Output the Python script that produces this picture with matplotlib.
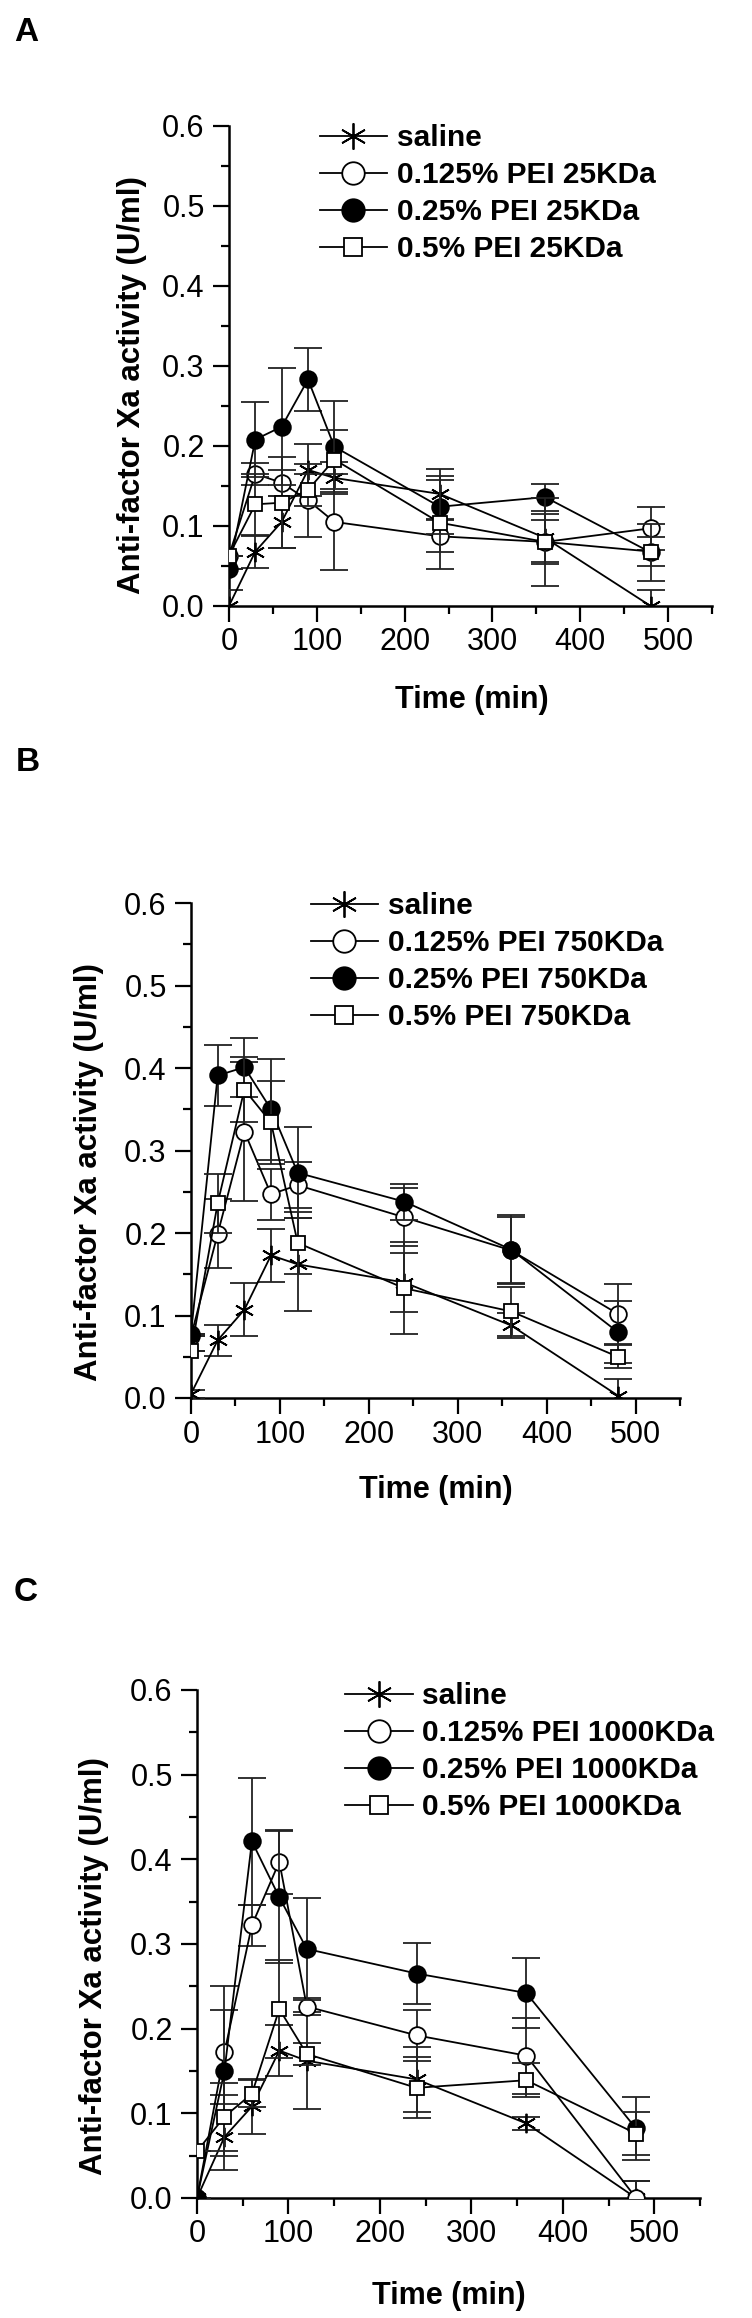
import matplotlib
matplotlib.use("Agg")
import matplotlib.pyplot as plt
from matplotlib.ticker import MultipleLocator

plt.rcParams['font.family'] = ['Liberation Sans', 'DejaVu Sans']

########################## Data ##########################
time_min = [0, 30, 60, 90, 120, 240, 360, 480]

panel_letters = ["A", "B", "C"]
mw_labels = ["25KDa", "750KDa", "1000KDa"]

# Panel A : PEI 25KDa
saline_A = [0.0, 0.068, 0.105, 0.170, 0.160, 0.140, 0.085, 0.0]
saline_A_err = [0.02, 0.020, 0.033, 0.032, 0.020, 0.031, 0.030, 0.020]
p125_A = [0.063, 0.165, 0.154, 0.132, 0.105, 0.087, 0.080, 0.097]
p125_A_err = [0.0, 0.014, 0.016, 0.046, 0.060, 0.020, 0.028, 0.027]
p25_A = [0.046, 0.208, 0.224, 0.283, 0.199, 0.124, 0.136, 0.067]
p25_A_err = [0.0, 0.047, 0.073, 0.039, 0.057, 0.034, 0.017, 0.036]
p5_A = [0.063, 0.127, 0.129, 0.145, 0.183, 0.104, 0.080, 0.068]
p5_A_err = [0.0, 0.038, 0.057, 0.020, 0.037, 0.058, 0.055, 0.018]

# Panel B : PEI 750KDa
saline_B = [0.005, 0.070, 0.107, 0.173, 0.162, 0.140, 0.088, 0.003]
saline_B_err = [0.005, 0.019, 0.032, 0.032, 0.056, 0.036, 0.015, 0.020]
p125_B = [0.075, 0.199, 0.323, 0.247, 0.258, 0.219, 0.179, 0.102]
p125_B_err = [0.0, 0.042, 0.084, 0.031, 0.028, 0.035, 0.040, 0.036]
p25_B = [0.078, 0.391, 0.401, 0.350, 0.273, 0.238, 0.180, 0.080]
p25_B_err = [0.0, 0.037, 0.036, 0.061, 0.055, 0.022, 0.042, 0.037]
p5_B = [0.057, 0.236, 0.374, 0.334, 0.188, 0.133, 0.105, 0.050]
p5_B_err = [0.0, 0.036, 0.040, 0.050, 0.038, 0.056, 0.030, 0.014]

# Panel C : PEI 1000KDa
saline_C = [0.0, 0.072, 0.108, 0.174, 0.162, 0.140, 0.088, 0.0]
saline_C_err = [0.0, 0.039, 0.033, 0.030, 0.057, 0.038, 0.008, 0.020]
p125_C = [0.0, 0.172, 0.322, 0.397, 0.226, 0.192, 0.168, 0.0]
p125_C_err = [0.0, 0.050, 0.024, 0.038, 0.010, 0.030, 0.045, 0.020]
p25_C = [0.0, 0.150, 0.421, 0.355, 0.294, 0.265, 0.242, 0.082]
p25_C_err = [0.0, 0.100, 0.075, 0.078, 0.060, 0.036, 0.041, 0.037]
p5_C = [0.055, 0.096, 0.123, 0.223, 0.170, 0.130, 0.139, 0.076]
p5_C_err = [0.0, 0.040, 0.016, 0.058, 0.013, 0.036, 0.020, 0.025]

panel_data = [
    [(saline_A, saline_A_err), (p125_A, p125_A_err), (p25_A, p25_A_err), (p5_A, p5_A_err)],
    [(saline_B, saline_B_err), (p125_B, p125_B_err), (p25_B, p25_B_err), (p5_B, p5_B_err)],
    [(saline_C, saline_C_err), (p125_C, p125_C_err), (p25_C, p25_C_err), (p5_C, p5_C_err)],
]

######################## Layout (figure fractions, by eye) ##########################
W, H = 752, 2318
ax_rects = [[0.3045, 0.7386, 0.6423, 0.2071],
            [0.2540, 0.3969, 0.6503, 0.2135],
            [0.2620, 0.0518, 0.6689, 0.2192]]
legend_anchor = [(0.188, 1.003), (0.245, 1.022), (0.295, 1.015)]
letter_pos = [(14, 17), (16, 747), (14, 1577)]
ylabel_xy = [(-0.170, 0.46), (-0.178, 0.457), (-0.175, 0.457)]
xlabel_xy = [(0.503, -0.165), (0.50, -0.156), (0.50, -0.163)]

# marker styles: saline = asterisk, 0.125% open circle, 0.25% filled circle, 0.5% open square
styles = [
    dict(marker=(6, 2, 0), ms=14, mfc='black'),
    dict(marker='o', ms=12, mfc='white'),
    dict(marker='o', ms=12, mfc='black'),
    dict(marker='s', ms=9.5, mfc='white'),
]

fig = plt.figure(figsize=(W / 100, H / 100), dpi=100)

for i in range(3):
    ax = fig.add_axes(ax_rects[i])
    labels = ["saline",
              "0.125% PEI " + mw_labels[i],
              "0.25% PEI " + mw_labels[i],
              "0.5% PEI " + mw_labels[i]]
    handles = []
    for k, (vals, errs) in enumerate(panel_data[i]):
        st = styles[k]
        eb = ax.errorbar(time_min, vals, yerr=errs, color='black', lw=1.3,
                         marker=st['marker'], ms=st['ms'], mfc=st['mfc'],
                         mec='black', mew=1.3, ecolor='#222222', elinewidth=1.3,
                         capsize=10, capthick=1.3, zorder=3 + k)
        handles.append(eb[0])

    ax.set_xlim(0, 550)
    ax.set_ylim(0, 0.6)
    ax.xaxis.set_major_locator(MultipleLocator(100))
    ax.xaxis.set_minor_locator(MultipleLocator(50))
    ax.yaxis.set_major_locator(MultipleLocator(0.1))
    ax.yaxis.set_minor_locator(MultipleLocator(0.05))
    ax.tick_params(which='major', direction='out', length=11.5, width=1.6, labelsize=22)
    ax.tick_params(which='minor', direction='out', length=5.8, width=1.6)
    ax.tick_params(axis='x', which='major', pad=4)
    ax.tick_params(axis='y', which='major', pad=6)
    for side in ['top', 'right']:
        ax.spines[side].set_visible(False)
    for side in ['left', 'bottom']:
        ax.spines[side].set_linewidth(1.8)

    ax.set_xlabel("Time (min)", fontsize=22, fontweight='bold')
    ax.set_ylabel("Anti-factor Xa activity (U/ml)", fontsize=22.5, fontweight='bold')
    ax.xaxis.set_label_coords(*xlabel_xy[i])
    ax.yaxis.set_label_coords(*ylabel_xy[i])

    leg = ax.legend(handles, labels, loc='upper left', bbox_to_anchor=legend_anchor[i],
                    frameon=False, borderpad=0, borderaxespad=0, handlelength=2.25,
                    handletextpad=0.32, labelspacing=0.3, markerscale=1.35,
                    prop={'size': 21.5, 'weight': 'bold'})

    fig.text(letter_pos[i][0] / W, 1 - letter_pos[i][1] / H, panel_letters[i],
             fontsize=24, fontweight='bold', ha='left', va='top')

fig.savefig("out.png", dpi=100)
